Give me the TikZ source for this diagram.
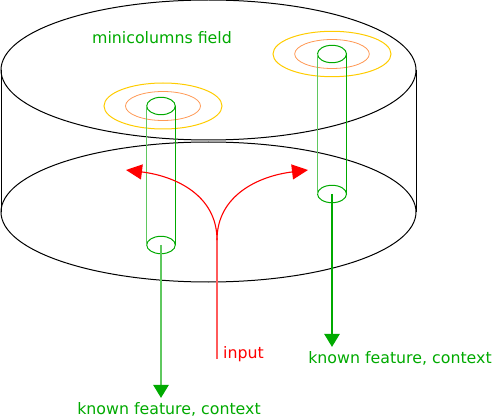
\documentclass[tikz,border=0pt]{standalone}
\usepackage{fontspec}
\setmainfont{DejaVu Sans}
\usetikzlibrary{arrows.meta}

\definecolor{mcgreen}{RGB}{0,170,0}
\definecolor{mclight}{RGB}{95,200,95}
\definecolor{mcyellow}{RGB}{255,204,0}
\definecolor{mcorange}{RGB}{255,153,85}
\definecolor{mcred}{RGB}{255,0,0}
\definecolor{mcpink}{RGB}{255,90,90}

\tikzset{
  lbl/.style={font=\fontsize{15.8}{18}\selectfont, inner sep=2pt},
  disc/.style={draw=black, line width=1pt},
  colm/.style={draw=mcgreen, line width=1pt},
  outarrow/.style={-{Triangle[length=13pt,width=15.5pt,color=mcgreen]}, draw=mclight, line width=1.3pt},
  inarrow/.style={-{Triangle[length=16pt,width=15pt]}, draw=mcred, line width=1.1pt}
}

\begin{document}
\begin{tikzpicture}[x=1pt,y=-1pt]

\useasboundingbox (0,0) rectangle (493,417);


\draw [disc] (208.5,70) ellipse [x radius=207.5pt, y radius=70pt];
\draw [disc] (208.5,212) ellipse [x radius=207.5pt, y radius=70pt];
\draw [disc] (1,70) -- (1,212);
\draw [disc] (416,70) -- (416,212);

\node [lbl, text=mcgreen] (mc-title) at (162,38){minicolumns field};



\draw [mcyellow, line width=1pt] (163,106) ellipse [x radius=59pt, y radius=23pt];
\draw [mcorange, line width=0.8pt] (163,106) ellipse [x radius=37.5pt, y radius=14.5pt];

\coordinate (mc-left-top) at (161,106);
\coordinate (mc-left-bot) at (161,245);
\draw [colm] (mc-left-top) ellipse [x radius=14.3pt, y radius=8.7pt];
\draw [colm] (mc-left-bot) ellipse [x radius=14.3pt, y radius=8.7pt];
\draw [mclight, line width=1.3pt] ([xshift=-14.3pt]mc-left-top) -- ([xshift=-14.3pt]mc-left-bot);
\draw [colm] ([xshift=14.3pt]mc-left-top) -- ([xshift=14.3pt]mc-left-bot);



\draw [mcyellow, line width=1pt] (332,54) ellipse [x radius=59pt, y radius=22.7pt];
\draw [mcorange, line width=0.8pt] (332,54) ellipse [x radius=37.3pt, y radius=14.5pt];

\coordinate (mc-right-top) at (332,54);
\coordinate (mc-right-bot) at (332,194);
\draw [colm] (mc-right-top) ellipse [x radius=14.5pt, y radius=8.7pt];
\draw [colm] (mc-right-bot) ellipse [x radius=14.5pt, y radius=8.7pt];
\draw [mclight, line width=1.3pt] ([xshift=-14.5pt]mc-right-top) -- ([xshift=-14.5pt]mc-right-bot);
\draw [colm] ([xshift=14.5pt]mc-right-top) -- ([xshift=14.5pt]mc-right-bot);



\node [lbl, text=mcgreen, inner sep=4pt] (kf-left) at (169,409){known feature, context};
\draw [outarrow] (mc-left-bot) -- (mc-left-bot |- kf-left.north);

\node [lbl, text=mcgreen, inner sep=4pt] (kf-right) at (400,358){known feature, context};
\draw [outarrow, draw=mcgreen] (mc-right-bot) -- (mc-right-bot |- kf-right.north);



\node [lbl, text=mcred, anchor=base west] (in-label) at (221,358){input};
\coordinate (in-foot) at (217,359);
\coordinate (in-fork) at (217,240);
\coordinate (in-left) at (126,170);
\coordinate (in-right) at (308,170);
\draw [mcpink, line width=1.1pt] (in-foot) -- (in-fork);
\draw [inarrow] (in-fork) .. controls (217,195) and (175,176) .. (in-left);
\draw [inarrow] (in-fork) .. controls (217,195) and (259,176) .. (in-right);

%%%%%%%%%%%%%%%%%%%%%%%%%%%%%%%%%%%%%%%%%%%%%%%%%%%%%%%%%%%%%%%%%

\end{tikzpicture}
\end{document}
